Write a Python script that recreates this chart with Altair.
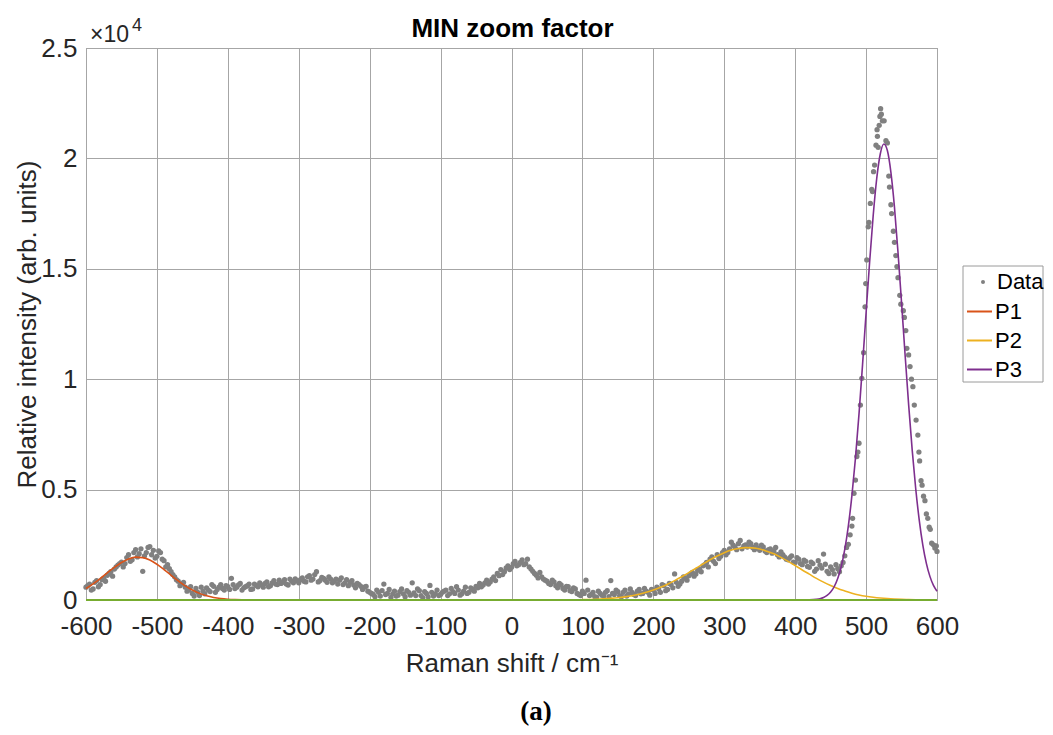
import altair as alt
import pandas as pd

FONT = "Liberation Sans"

# ---------------- measured data (intensity in units of 1e4) ----------------
# regular sampling, first set: x = -600 ... 460 step 5
data_x_a = list(range(-600, 461, 5))
data_y_a = [
    0.058, 0.072, 0.050, 0.088, 0.070, 0.098, 0.112, 0.128, 0.140, 0.158,
    0.172, 0.165, 0.205, 0.182, 0.228, 0.210, 0.130, 0.215, 0.242, 0.225,
    0.198, 0.215, 0.178, 0.160, 0.128, 0.105, 0.085, 0.072, 0.058, 0.045,
    0.030, 0.052, 0.020, 0.040, 0.055, 0.038, 0.062, 0.048, 0.070, 0.045,
    0.060, 0.098, 0.052, 0.068, 0.045, 0.060, 0.072, 0.050, 0.066, 0.078,
    0.058, 0.082, 0.065, 0.088, 0.070, 0.075, 0.092, 0.068, 0.085, 0.096,
    0.078, 0.100, 0.082, 0.110, 0.095, 0.128, 0.088, 0.098, 0.080, 0.095,
    0.085, 0.072, 0.100, 0.078, 0.065, 0.088, 0.055, 0.070, 0.048, 0.062,
    0.035, 0.025, 0.045, 0.018, 0.072, 0.030, 0.012, 0.040, 0.022, 0.050,
    0.015, 0.035, 0.078, 0.020, 0.042, 0.010, 0.030, 0.066, 0.018, 0.045,
    0.025, 0.040, 0.020, 0.052, 0.030, 0.045, 0.028, 0.058, 0.035, 0.048,
    0.062, 0.075, 0.068, 0.090, 0.082, 0.105, 0.120, 0.138, 0.128, 0.155,
    0.148, 0.175, 0.160, 0.182, 0.165, 0.150, 0.130, 0.112, 0.125, 0.095,
    0.085, 0.070, 0.082, 0.055, 0.068, 0.045, 0.060, 0.038, 0.050, 0.025,
    0.040, 0.090, 0.020, 0.035, 0.012, 0.030, 0.018, 0.042, 0.088, 0.025,
    0.038, 0.015, 0.045, 0.028, 0.035, 0.020, 0.048, 0.030, 0.040, 0.022,
    0.045, 0.058, 0.035, 0.065, 0.048, 0.070, 0.118, 0.062, 0.085, 0.098,
    0.110, 0.125, 0.118, 0.140, 0.155, 0.170, 0.185, 0.175, 0.205, 0.198,
    0.225, 0.215, 0.262, 0.240, 0.255, 0.232, 0.250, 0.262, 0.238, 0.250,
    0.225, 0.240, 0.215, 0.232, 0.222, 0.205, 0.218, 0.195, 0.182, 0.200,
    0.170, 0.185, 0.160, 0.175, 0.148, 0.165, 0.140, 0.158, 0.208, 0.130,
    0.150, 0.118, 0.142,
]

# second interleaved set: x = -597.5 ... 457.5 step 5
data_x_b = [v + 2.5 for v in range(-600, 456, 5)]
data_y_b = [
    0.065, 0.045, 0.080, 0.060, 0.092, 0.085, 0.120, 0.108, 0.150, 0.165,
    0.150, 0.192, 0.175, 0.215, 0.195, 0.232, 0.200, 0.238, 0.205, 0.190,
    0.222, 0.185, 0.150, 0.142, 0.115, 0.092, 0.065, 0.080, 0.040, 0.060,
    0.018, 0.035, 0.058, 0.028, 0.045, 0.070, 0.035, 0.058, 0.052, 0.065,
    0.048, 0.070, 0.058, 0.075, 0.055, 0.065, 0.048, 0.072, 0.060, 0.068,
    0.075, 0.060, 0.078, 0.072, 0.090, 0.080, 0.072, 0.095, 0.078, 0.088,
    0.092, 0.085, 0.105, 0.090, 0.115, 0.082, 0.102, 0.090, 0.105, 0.078,
    0.095, 0.090, 0.070, 0.092, 0.080, 0.068, 0.075, 0.062, 0.058, 0.040,
    0.030, 0.015, 0.035, 0.042, 0.025, 0.048, 0.028, 0.018, 0.038, 0.028,
    0.042, 0.022, 0.032, 0.050, 0.020, 0.038, 0.015, 0.035, 0.028, 0.020,
    0.035, 0.045, 0.028, 0.038, 0.060, 0.022, 0.040, 0.030, 0.055, 0.040,
    0.055, 0.060, 0.078, 0.072, 0.095, 0.088, 0.110, 0.115, 0.145, 0.138,
    0.165, 0.155, 0.170, 0.160, 0.185, 0.140, 0.120, 0.100, 0.105, 0.090,
    0.075, 0.090, 0.065, 0.075, 0.052, 0.062, 0.042, 0.055, 0.030, 0.020,
    0.030, 0.045, 0.025, 0.015, 0.040, 0.022, 0.035, 0.015, 0.030, 0.045,
    0.020, 0.035, 0.018, 0.050, 0.025, 0.040, 0.028, 0.052, 0.035, 0.048,
    0.030, 0.050, 0.070, 0.042, 0.075, 0.055, 0.080, 0.072, 0.105, 0.090,
    0.118, 0.108, 0.135, 0.128, 0.160, 0.150, 0.195, 0.165, 0.188, 0.215,
    0.205, 0.232, 0.248, 0.228, 0.270, 0.245, 0.240, 0.255, 0.228, 0.235,
    0.248, 0.222, 0.228, 0.212, 0.238, 0.195, 0.205, 0.185, 0.192, 0.172,
    0.192, 0.165, 0.180, 0.152, 0.172, 0.130, 0.178, 0.145, 0.162, 0.120,
    0.138, 0.160,
]

# main peak region
peak_x = [462.5, 465, 467.5, 470, 472.5, 475, 477.5, 480,
          481, 483, 485, 487, 488.5, 490, 492, 494,
          496.5, 498.5, 499.5, 501, 503, 504, 506, 508,
          509, 510.5, 512, 514, 515.5, 516, 517, 518.5,
          519.5, 520.5, 521.5, 523, 525.5, 528, 530, 532,
          533, 535, 536, 538.5, 540, 542, 543.5, 545,
          547.5, 549, 552.5, 554, 556, 557.5, 560, 562,
          564, 566, 568, 570.5, 573, 574.5, 575.5, 577.5,
          579, 581, 583, 585, 587, 589, 590.5, 592.5,
          595, 597, 599, 600]
peak_y = [0.128, 0.155, 0.170, 0.200, 0.238, 0.252, 0.295, 0.335,
          0.370, 0.483, 0.543, 0.650, 0.670, 0.710, 0.883, 1.004,
          1.120, 1.328, 1.433, 1.540, 1.690, 1.710, 1.796, 1.860,
          1.850, 1.940, 1.970, 2.060, 2.130, 2.100, 2.050, 2.150,
          2.190, 2.225, 2.200, 2.170, 2.170, 2.080, 2.070, 1.920,
          1.870, 1.790, 1.750, 1.670, 1.620, 1.560, 1.510, 1.460,
          1.380, 1.340, 1.310, 1.280, 1.220, 1.140, 1.110, 1.057,
          1.000, 0.966, 0.883, 0.815, 0.747, 0.670, 0.630, 0.540,
          0.520, 0.470, 0.450, 0.390, 0.370, 0.330, 0.320, 0.257,
          0.250, 0.235, 0.245, 0.220]

# ---------------- fitted peaks ----------------
p1_x = [-600, -590, -580, -570, -560, -550, -540, -530, -520, -510, -500,
        -490, -480, -470, -460, -450, -440, -430, -420, -410, -400, -390,
        -380, -370, 600]
p1_y = [0.052, 0.073, 0.097, 0.123, 0.148, 0.170, 0.186, 0.194, 0.192,
        0.181, 0.162, 0.138, 0.112, 0.087, 0.064, 0.045, 0.030, 0.019,
        0.0115, 0.0066, 0.0036, 0.0019, 0.0009, 0.0004, 0.0]

p2_x = [-600, 90, 100, 110, 120, 130, 140, 150, 160, 170, 180, 190, 200,
        210, 220, 230, 240, 250, 260, 270, 280, 290, 300, 310, 320, 330,
        340, 350, 360, 370, 380, 390, 400, 410, 420, 430, 440, 450, 460,
        470, 480, 490, 500, 510, 520, 530, 540, 550, 560, 570, 580, 590, 600]
p2_y = [0.0, 0.001, 0.0015, 0.0022, 0.0034, 0.005, 0.0072, 0.0102, 0.0143,
        0.0196, 0.0264, 0.0348, 0.0451, 0.0573, 0.0715, 0.0876, 0.105, 0.124,
        0.144, 0.163, 0.182, 0.199, 0.214, 0.226, 0.233, 0.237, 0.236, 0.231,
        0.221, 0.209, 0.193, 0.175, 0.156, 0.136, 0.117, 0.098, 0.081, 0.066,
        0.052, 0.041, 0.031, 0.023, 0.017, 0.0125, 0.0089, 0.0062, 0.0043,
        0.0029, 0.0019, 0.0012, 0.0008, 0.0005, 0.0003]

p3_x = [-600, 410, 420, 430, 435, 440, 445, 450, 455, 460, 465, 470, 475,
        480, 485, 490, 495, 500, 505, 510, 515, 520, 525, 530, 535, 540, 545,
        550, 555, 560, 565, 570, 575, 580, 585, 590, 595, 600]
p3_y = [0.0, 0.0001, 0.0007, 0.0031, 0.006, 0.0114, 0.0205, 0.0357, 0.060,
        0.097, 0.152, 0.230, 0.336, 0.473, 0.642, 0.842, 1.065, 1.30, 1.531,
        1.74, 1.909, 2.02, 2.065, 2.036, 1.937, 1.78, 1.575, 1.347, 1.111,
        0.885, 0.680, 0.504, 0.361, 0.249, 0.166, 0.107, 0.066, 0.040]

base_x = [-600, 600]
base_y = [0.0, 0.0]

fit_names = ["P1", "P2", "P3"]
fit_colors = ["#D95319", "#EDB120", "#7E2F8E"]
data_color = "#808080"
x_ticks = [-600, -500, -400, -300, -200, -100, 0, 100, 200, 300, 400, 500, 600]
y_ticks = [0, 0.5, 1, 1.5, 2, 2.5]

# ---------------- tables ----------------
pts = pd.DataFrame({
    "x": data_x_a + data_x_b + peak_x,
    "y": data_y_a + data_y_b + peak_y,
    "series": "Data",
})
lines = pd.concat([
    pd.DataFrame({"x": p1_x, "y": p1_y, "series": "P1"}),
    pd.DataFrame({"x": p2_x, "y": p2_y, "series": "P2"}),
    pd.DataFrame({"x": p3_x, "y": p3_y, "series": "P3"}),
], ignore_index=True)
base = pd.DataFrame({"x": base_x, "y": base_y})
one = pd.DataFrame({"t": ["MIN zoom factor"], "m": ["×10"], "e": ["4"], "c": ["(a)"]})

x_scale = alt.Scale(domain=[-600, 600], nice=False, zero=False)
y_scale = alt.Scale(domain=[0, 2.5], nice=False)

x_axis = alt.Axis(values=x_ticks, labelExpr="'' + datum.value",
                  title="Raman shift / cm⁻¹", labelPadding=13, titlePadding=11,
                  labelFlush=False)
y_axis = alt.Axis(values=y_ticks, labelExpr="'' + datum.value",
                  title="Relative intensity (arb. units)", labelPadding=9,
                  titlePadding=0, labelFlush=False)

LEG_FONT = 22
LEG_X = 880

# legend frame (drawn first so the legends sit on it)
legend_box = alt.Chart(one).mark_rect(fill="white", stroke="#9a9a9a",
                                      strokeWidth=1).encode(
    x=alt.value(877), x2=alt.value(957), y=alt.value(218), y2=alt.value(334))

points = alt.Chart(pts).mark_point(filled=True, size=28, opacity=1,
                                   color=data_color).encode(
    x=alt.X("x:Q", scale=x_scale, axis=x_axis),
    y=alt.Y("y:Q", scale=y_scale, axis=y_axis),
    shape=alt.Shape("series:N",
                    scale=alt.Scale(domain=["Data"], range=["circle"]),
                    legend=alt.Legend(title=None, orient="none",
                                      legendX=LEG_X - 5, legendY=223,
                                      padding=0, labelFont=FONT,
                                      labelFontSize=LEG_FONT, labelColor="black",
                                      labelOffset=3, symbolSize=16,
                                      symbolOffset=11,
                                      symbolFillColor=data_color,
                                      symbolStrokeWidth=0)),
)
fits = alt.Chart(lines).mark_line(strokeWidth=1.6, interpolate="monotone").encode(
    x=alt.X("x:Q", scale=x_scale),
    y=alt.Y("y:Q", scale=y_scale),
    color=alt.Color("series:N",
                    scale=alt.Scale(domain=fit_names, range=fit_colors),
                    legend=alt.Legend(title=None, orient="none",
                                      legendX=LEG_X, legendY=250,
                                      padding=0, labelFont=FONT,
                                      labelFontSize=LEG_FONT, labelColor="black",
                                      labelOffset=2, rowPadding=4,
                                      symbolSize=625, symbolType="stroke",
                                      symbolStrokeWidth=2)),
)
baseline = alt.Chart(base).mark_line(strokeWidth=2, color="#77AC30").encode(
    x=alt.X("x:Q", scale=x_scale),
    y=alt.Y("y:Q", scale=y_scale),
)
title = alt.Chart(one).mark_text(
    align="center", baseline="alphabetic", font=FONT, fontSize=26,
    fontWeight="bold", color="black").encode(
    x=alt.value(426.5), y=alt.value(-11), text="t:N")
mult = alt.Chart(one).mark_text(
    align="left", baseline="alphabetic", font=FONT, fontSize=23,
    color="#262626").encode(x=alt.value(4), y=alt.value(-6), text="m:N")
expo = alt.Chart(one).mark_text(
    align="left", baseline="alphabetic", font=FONT, fontSize=18,
    color="#262626").encode(x=alt.value(46), y=alt.value(-17), text="e:N")
caption = alt.Chart(one).mark_text(
    align="center", baseline="alphabetic", font="Liberation Serif",
    fontSize=27, fontWeight="bold", color="black").encode(
    x=alt.value(450), y=alt.value(672), text="c:N")

chart = alt.layer(
    legend_box, points, fits, baseline, title, mult, expo, caption
).resolve_legend(
    shape="independent", color="independent"
).properties(
    width=851, height=552,
    autosize=alt.AutoSizeParams(type="none"),
    padding={"left": 78, "top": 40, "right": 108, "bottom": 127},
).configure_view(
    stroke="#888888", strokeWidth=1
).configure_axis(
    labelFont=FONT, labelFontSize=26, labelColor="#262626",
    titleFont=FONT, titleFontSize=26, titleFontWeight="normal",
    titleColor="#262626", ticks=False, domain=False,
    gridColor="#a6a6a6", gridWidth=1, gridOpacity=1,
)

chart.save("out.html", embed_options={"renderer": "svg", "actions": False})
